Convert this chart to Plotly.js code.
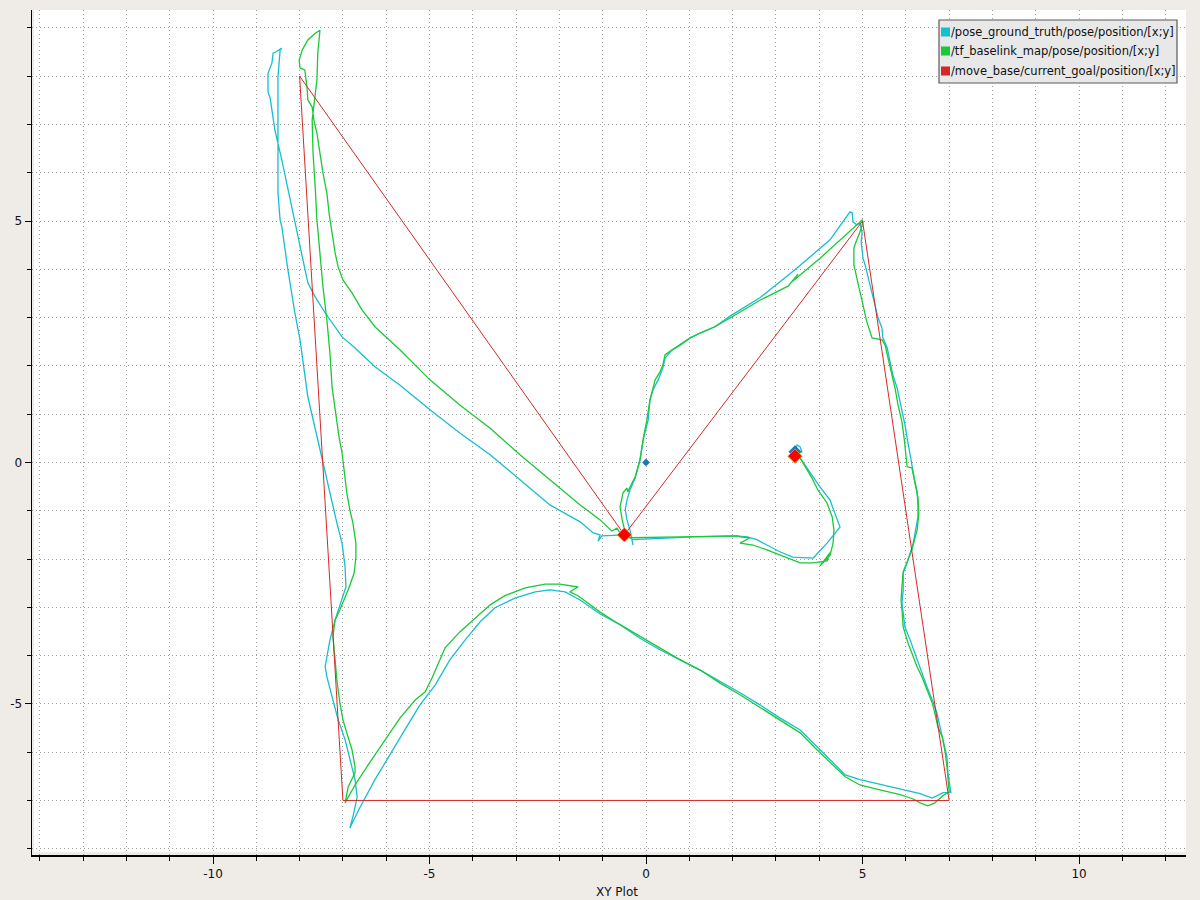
<!DOCTYPE html>
<html>
<head>
<meta charset="utf-8">
<script src="https://cdn.plot.ly/plotly-3.0.1.min.js"></script>
<style>html,body{margin:0;padding:0;background:#efebe7;}#plot{width:1200px;height:900px;}</style>
</head>
<body>
<div id="plot"></div>
<script>
// Series names
const seriesNames = ['/pose_ground_truth/pose/position/[x;y]', '/tf_baselink_map/pose/position/[x;y]', '/move_base/current_goal/position/[x;y]'];
const seriesColors = ['#17becf', '#1ac938', '#d62728'];

// /pose_ground_truth/pose/position [x, y]
const groundTruthPath = [
  [-0.30,-1.71],[-0.37,-1.40],[-0.44,-1.19],[-0.48,-0.98],[-0.44,-0.78],[-0.37,-0.57],[-0.25,-0.32],[-0.14,0.05],[-0.05,0.53],[0.05,0.88],
  [0.09,1.29],[0.16,1.50],[0.28,1.71],[0.39,1.96],[0.44,2.16],[0.60,2.33],[0.79,2.43],[1.02,2.58],[1.25,2.68],[1.59,2.81],
  [1.94,3.03],[2.63,3.41],[3.44,3.99],[4.25,4.61],[4.71,5.19],
  [4.76,5.17],[4.78,4.98],[4.87,4.92],[4.94,4.96],[4.99,4.75],[4.97,4.57],[5.01,4.23],[5.06,4.09],[5.13,3.82],[5.22,3.53],
  [5.29,3.26],[5.36,2.99],[5.45,2.78],[5.47,2.58],[5.57,2.37],[5.64,2.08],[5.70,1.81],[5.80,1.54],[5.87,1.25],[5.94,0.92],
  [5.98,0.78],[6.03,0.51],[6.10,0.16],[6.14,-0.11],[6.21,-0.40],[6.26,-0.61],[6.28,-0.88],[6.28,-1.13],[6.17,-1.67],[6.03,-2.08],
  [5.94,-2.29],[5.94,-2.64],[5.91,-2.91],[5.94,-3.12],[5.98,-3.41],[6.10,-3.68],[6.26,-4.09],[6.37,-4.36],[6.49,-4.65],[6.61,-4.92],
  [6.72,-5.19],[6.79,-5.48],[6.86,-5.74],[6.95,-6.10],[6.97,-6.43],[7.02,-6.78],[7.04,-6.84],
  [6.86,-6.84],[6.61,-6.95],[6.33,-6.86],[5.87,-6.76],[5.40,-6.66],[4.94,-6.57],[4.60,-6.47],[4.25,-6.16],[3.90,-5.85],[3.56,-5.54],
  [3.09,-5.29],[2.63,-5.02],[2.17,-4.77],[1.71,-4.54],[1.25,-4.30],[0.79,-4.09],[0.32,-3.88],[-0.14,-3.64],[-0.60,-3.36],[-1.06,-3.14],
  [-1.52,-2.85],[-1.87,-2.68],[-2.22,-2.64],[-2.56,-2.68],[-3.03,-2.81],[-3.49,-3.01],[-3.83,-3.30],[-4.18,-3.68],[-4.53,-4.09],[-4.87,-4.61],
  [-5.22,-5.02],[-5.57,-5.54],[-5.91,-6.06],[-6.26,-6.57],[-6.61,-7.15],[-6.84,-7.57],
  [-6.77,-7.34],[-6.67,-6.93],[-6.72,-6.57],[-6.84,-6.16],[-6.95,-5.74],[-7.11,-5.33],[-7.25,-4.86],[-7.37,-4.44],[-7.41,-4.23],[-7.30,-3.68],
  [-7.18,-3.26],[-7.02,-2.85],[-6.93,-2.58],[-6.95,-2.16],[-7.02,-1.67],[-7.14,-1.25],[-7.30,-0.63],[-7.46,-0.01],[-7.58,0.47],[-7.69,0.88],
  [-7.81,1.36],[-7.99,2.54],[-8.11,3.10],[-8.27,3.99],[-8.41,4.88],[-8.45,5.02],[-8.50,5.58],[-8.50,6.53],[-8.50,7.15],[-8.50,7.98],
  [-8.45,8.54],[-8.41,8.58],
  [-8.55,8.50],[-8.61,8.48],[-8.64,8.27],[-8.73,8.06],[-8.73,7.67],[-8.68,7.55],[-8.64,7.30],[-8.57,6.88],[-8.41,6.26],[-8.18,5.29],
  [-8.04,4.67],[-7.88,4.05],[-7.81,3.72],[-7.64,3.43],[-7.41,3.10],[-7.02,2.60],[-6.72,2.37],[-6.26,1.98],[-5.68,1.60],[-4.99,1.09],
  [-4.30,0.61],[-3.60,0.16],[-2.91,-0.36],[-2.22,-0.88],[-1.52,-1.23],[-1.22,-1.46],[-1.06,-1.50],[-1.11,-1.63],[-1.02,-1.52],[-0.48,-1.50],
  [-0.30,-1.60],[1.09,-1.54],[2.10,-1.52],[2.33,-1.54],[2.56,-1.60],[2.79,-1.71],[3.09,-1.85],[3.39,-1.96],[3.86,-1.98],[4.18,-1.67],
  [4.48,-1.34],[4.36,-1.05],[4.25,-0.78],[4.02,-0.51],[3.79,-0.22],[3.56,0.09],[3.49,0.20],[3.60,0.22],[3.56,0.32],[3.49,0.36],[3.44,0.22]
];

// /tf_baselink_map/pose/position [x, y]
const baselinkPath = [
  [-0.48,-1.46],[-0.55,-1.19],[-0.60,-0.92],[-0.53,-0.63],[-0.44,-0.53],[-0.42,-0.61],[-0.37,-0.51],[-0.25,-0.30],[-0.14,0.05],[-0.07,0.47],
  [0.02,0.88],[0.09,1.29],[0.14,1.46],[0.21,1.71],[0.32,1.87],[0.39,2.02],[0.44,2.23],[0.60,2.33],[0.79,2.43],[1.02,2.58],
  [1.25,2.68],[1.59,2.81],[1.94,2.99],[2.63,3.36],[3.28,3.65],[3.51,3.90],[3.37,3.74],[4.02,4.23],[4.48,4.61],[4.99,5.02],
  [5.01,4.98],[4.94,4.77],[4.85,4.57],[4.80,4.44],[4.80,4.09],[4.87,3.82],[4.94,3.53],[5.01,3.26],[5.10,2.91],[5.22,2.58],
  [5.45,2.54],[5.52,2.43],[5.59,2.16],[5.68,1.81],[5.75,1.54],[5.82,1.19],[5.91,0.84],[5.96,0.51],[6.00,0.09],[6.03,-0.09],
  [6.14,-0.11],[6.21,-0.40],[6.28,-0.73],[6.30,-1.05],[6.26,-1.40],[6.14,-1.81],[6.03,-2.08],[5.94,-2.26],[5.91,-2.58],[5.89,-2.85],
  [5.91,-3.05],[5.94,-3.41],[6.05,-3.74],[6.17,-4.03],[6.26,-4.23],[6.37,-4.44],[6.49,-4.71],[6.61,-4.98],[6.67,-5.19],[6.74,-5.48],
  [6.84,-5.68],[6.91,-6.01],[6.95,-6.30],[6.97,-6.57],[7.00,-6.82],
  [6.86,-6.90],[6.67,-7.05],[6.51,-7.11],[6.33,-7.05],[6.17,-6.97],[5.87,-6.88],[5.40,-6.78],[4.94,-6.68],[4.60,-6.51],[4.25,-6.22],
  [3.90,-5.91],[3.56,-5.60],[3.09,-5.33],[2.63,-5.06],[2.17,-4.81],[1.71,-4.57],[1.25,-4.30],[0.79,-4.09],[0.32,-3.84],[-0.14,-3.61],
  [-0.60,-3.36],[-1.06,-3.10],[-1.57,-2.76],[-1.76,-2.68],[-1.57,-2.58],[-1.99,-2.52],[-2.33,-2.52],[-2.79,-2.60],[-3.26,-2.76],[-3.60,-2.95],
  [-3.95,-3.22],[-4.30,-3.51],[-4.64,-3.84],[-4.94,-4.46],[-5.10,-4.75],[-5.33,-4.92],[-5.68,-5.29],[-6.03,-5.74],[-6.37,-6.20],[-6.72,-6.68],
  [-6.95,-7.05],
  [-6.88,-6.72],[-6.72,-6.43],[-6.72,-6.30],[-6.79,-5.95],[-6.91,-5.60],[-7.00,-5.33],[-7.07,-4.98],[-7.14,-4.50],[-7.18,-4.09],[-7.23,-3.61],
  [-7.18,-3.26],[-7.07,-3.05],[-6.88,-2.64],[-6.74,-2.29],[-6.70,-1.96],[-6.70,-1.67],[-6.77,-1.25],[-6.84,-0.98],[-6.91,-0.63],[-6.97,-0.22],
  [-7.02,0.20],[-7.09,0.53],[-7.14,0.88],[-7.25,1.56],[-7.30,2.27],[-7.37,2.95],[-7.46,3.63],[-7.53,4.34],[-7.60,5.02],[-7.64,5.70],
  [-7.69,6.41],[-7.71,7.09],[-7.64,7.65],[-7.60,7.92],[-7.58,8.48],[-7.53,8.95],
  [-7.64,8.89],[-7.81,8.75],[-7.94,8.54],[-8.01,8.33],[-7.99,8.17],[-7.88,8.13],[-7.83,7.78],[-7.81,7.51],[-7.71,7.36],[-7.67,7.09],
  [-7.60,6.82],[-7.53,6.41],[-7.46,5.99],[-7.37,5.58],[-7.32,5.17],[-7.25,4.75],[-7.18,4.34],[-7.11,4.05],[-7.00,3.78],[-6.79,3.51],
  [-6.61,3.22],[-6.56,3.16],[-6.26,2.81],[-5.68,2.33],[-4.99,1.71],[-4.30,1.19],[-3.60,0.71],[-2.91,0.16],[-2.22,-0.36],[-1.52,-0.88],
  [-1.06,-1.19],[-0.79,-1.42],[-0.67,-1.36],[-0.60,-1.46],[-0.48,-1.50],
  [-0.37,-1.56],[0.79,-1.54],[2.10,-1.52],[2.17,-1.54],[2.40,-1.56],[2.17,-1.67],[2.47,-1.71],[2.79,-1.81],[3.09,-1.92],[3.56,-2.08],
  [3.86,-2.08],[4.18,-2.04],[4.25,-1.87],[4.02,-2.14],[4.25,-1.92],[4.32,-1.67],[4.34,-1.40],[4.30,-1.13],[4.18,-0.84],[3.97,-0.57],
  [3.83,-0.32],[3.72,-0.16],[3.56,0.09],[3.44,0.13]
];

// /move_base/current_goal/position [x, y]
const goalX = [-0.5, 5, 7, -7, -8, -0.5];
const goalY = [-1.5, 5, -7, -7, 8, -1.5];

// current-time markers
const originMarkerX = [0];
const originMarkerY = [0];
const truthMarkerX = [-0.5, 3.44];
const truthMarkerY = [-1.5, 0.22];
const goalMarkerX = [-0.5, 3.44];
const goalMarkerY = [-1.5, 0.13];

const tickVals = [-10, -5, 0, 5, 10];

const traces = [
  {x: groundTruthPath.map(p => p[0]), y: groundTruthPath.map(p => p[1]), type: 'scatter', mode: 'lines',
   name: seriesNames[0], line: {color: seriesColors[0], width: 1.3}, showlegend: false},
  {x: baselinkPath.map(p => p[0]), y: baselinkPath.map(p => p[1]), type: 'scatter', mode: 'lines',
   name: seriesNames[1], line: {color: seriesColors[1], width: 1.3}, showlegend: false},
  {x: goalX, y: goalY, type: 'scatter', mode: 'lines',
   name: seriesNames[2], line: {color: seriesColors[2], width: 1}, showlegend: false},
  {x: originMarkerX, y: originMarkerY, type: 'scatter', mode: 'markers', showlegend: false,
   marker: {symbol: 'diamond', size: 6, color: '#1f77b4'}},
  {x: truthMarkerX, y: truthMarkerY, type: 'scatter', mode: 'markers', showlegend: false,
   marker: {symbol: 'diamond', size: 10, color: '#1f77b4'}},
  {x: goalMarkerX, y: goalMarkerY, type: 'scatter', mode: 'markers', showlegend: false,
   marker: {symbol: 'diamond', size: 11, color: '#ff0000', line: {color: '#d0b000', width: 0.8}}}
];

const W = 1154, H = 845;
const px = v => (v - 32) / W;          // page x -> paper x
const py = v => 1 - (v - 10) / H;      // page y -> paper y

const shapes = [
  {type: 'rect', xref: 'paper', yref: 'paper', x0: 2 / W, x1: 1, y0: 3 / H, y1: 1,
   fillcolor: '#ffffff', line: {width: 0}, layer: 'below'},
  {type: 'rect', xref: 'paper', yref: 'paper', x0: px(939), x1: px(1177), y0: py(83), y1: py(20),
   fillcolor: '#e8e8e8', line: {color: '#5a5a5a', width: 1.2}, layer: 'above'}
];
const annotations = [];
const rowsY = [32, 51, 71];
for (let i = 0; i < 3; i++) {
  shapes.push({type: 'rect', xref: 'paper', yref: 'paper', x0: px(941), x1: px(950), y0: py(rowsY[i] + 4.5), y1: py(rowsY[i] - 4.5),
    fillcolor: seriesColors[i], line: {width: 0}, layer: 'above'});
  annotations.push({xref: 'paper', yref: 'paper', x: px(949), y: py(rowsY[i]), xanchor: 'left', yanchor: 'middle',
    text: seriesNames[i], showarrow: false, font: {family: 'DejaVu Sans', size: 11.5, color: '#111'}});
}
annotations.push({xref: 'paper', yref: 'paper', x: px(617), y: py(892), xanchor: 'center', yanchor: 'middle',
  text: 'XY Plot', showarrow: false, font: {family: 'DejaVu Sans', size: 12, color: '#111'}});

const gridDash = '1px,3px';
const layout = {
  width: 1200, height: 900,
  margin: {l: 32, r: 14, t: 10, b: 45, pad: 0},
  paper_bgcolor: '#efebe7', plot_bgcolor: '#efebe7',
  showlegend: false,
  font: {family: 'DejaVu Sans', size: 12, color: '#111'},
  xaxis: {
    range: [-14.18, 12.47], autorange: false, tickvals: tickVals, ticktext: tickVals.map(String),
    ticks: 'outside', ticklen: 7, tickcolor: '#000', tickwidth: 1,
    showline: true, linecolor: '#000', linewidth: 1.5, zeroline: false,
    showgrid: true, gridcolor: 'rgb(160,160,160)', griddash: gridDash, gridwidth: 1,
    minor: {dtick: 1, tick0: 0, ticks: 'outside', ticklen: 4, tickcolor: '#000', tickwidth: 1,
            showgrid: true, gridcolor: 'rgb(160,160,160)', griddash: gridDash, gridwidth: 1},
    automargin: false, fixedrange: true, tickfont: {family: 'DejaVu Sans', size: 12, color: '#111'}
  },
  yaxis: {
    range: [-8.13, 9.37], autorange: false, tickvals: tickVals, ticktext: tickVals.map(String),
    ticks: 'outside', ticklen: 6, tickcolor: '#000', tickwidth: 1,
    showline: true, linecolor: '#000', linewidth: 1.5, zeroline: false,
    showgrid: true, gridcolor: 'rgb(160,160,160)', griddash: gridDash, gridwidth: 1,
    minor: {dtick: 1, tick0: 0, ticks: 'outside', ticklen: 4, tickcolor: '#000', tickwidth: 1,
            showgrid: true, gridcolor: 'rgb(160,160,160)', griddash: gridDash, gridwidth: 1},
    automargin: false, fixedrange: true, tickfont: {family: 'DejaVu Sans', size: 12, color: '#111'}
  },
  shapes: shapes,
  annotations: annotations
};

Plotly.newPlot('plot', traces, layout, {displayModeBar: false, staticPlot: true});
</script>
</body>
</html>
